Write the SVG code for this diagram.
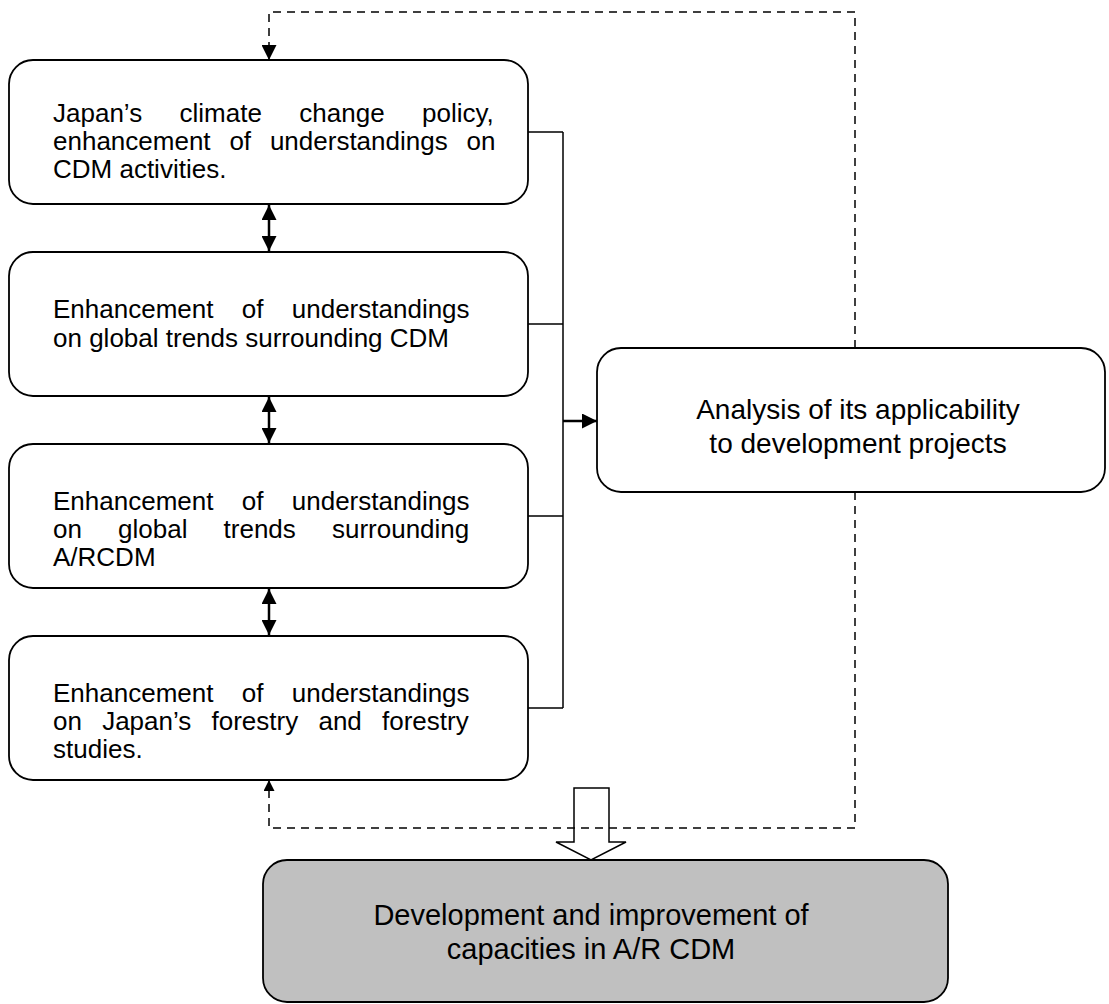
<svg xmlns="http://www.w3.org/2000/svg" width="1109" height="1004" viewBox="0 0 1109 1004">
  <style>
    .box{fill:#fff;stroke:#000;stroke-width:1.8}
    .grey{fill:#c0c0c0}
    .t{font-family:"Liberation Sans",Arial,sans-serif;font-size:26px;fill:#000}
    .m{font-family:"Liberation Sans",Arial,sans-serif;font-size:28px;fill:#000;text-anchor:middle}
    .b{font-family:"Liberation Sans",Arial,sans-serif;font-size:29px;fill:#000;text-anchor:middle}
    .ln{fill:none;stroke:#000;stroke-width:1.5}
    .bold{stroke-width:2.5}
    .dash{fill:none;stroke:#000;stroke-width:1.5;stroke-dasharray:8 6}
  </style>
  <defs>
    <marker id="head" viewBox="0 0 10 10" refX="10" refY="5" markerWidth="15" markerHeight="15" markerUnits="userSpaceOnUse" orient="auto-start-reverse">
      <path d="M0,0 L10,5 L0,10 z" fill="#000"/>
    </marker>
    <marker id="headS" viewBox="0 0 10 10" refX="10" refY="5" markerWidth="14" markerHeight="11" markerUnits="userSpaceOnUse" orient="auto">
      <path d="M0,0 L10,5 L0,10 z" fill="#000"/>
    </marker>
  </defs>

  <!-- hollow block arrow into the result box (under the feedback loop) -->
  <polygon id="block-arrow" points="574,788 609,788 609,842 626,842 591,860 556,842 574,842" fill="#fff" stroke="#000" stroke-width="1.5"/>

  <g id="connectors">
    <!-- links between the stacked topics -->
    <line class="ln bold" x1="269" y1="205" x2="269" y2="251" marker-start="url(#head)" marker-end="url(#head)"/>
    <line class="ln bold" x1="269" y1="397" x2="269" y2="443" marker-start="url(#head)" marker-end="url(#head)"/>
    <line class="ln bold" x1="269" y1="589" x2="269" y2="635" marker-start="url(#head)" marker-end="url(#head)"/>
    <!-- bus collecting all topics -->
    <path class="ln" d="M528,132 H563 M528,324 H563 M528,516 H563 M528,708 H563 M563,132 V708"/>
    <line class="ln bold" x1="563" y1="421" x2="597" y2="421" marker-end="url(#head)"/>
    <!-- feedback loops -->
    <path class="dash" d="M855,348 V12 H269 V60" marker-end="url(#head)"/>
    <path class="dash" d="M855,492 V828 H269 V780" marker-end="url(#headS)"/>
  </g>

  <g id="node-policy">
    <rect class="box" x="9" y="60" width="519" height="144" rx="24"/>
    <text class="t" x="53" y="122" word-spacing="30.2">Japan’s climate change policy,</text>
    <text class="t" x="53" y="150" word-spacing="11.6">enhancement of understandings on</text>
    <text class="t" x="53" y="178">CDM activities.</text>
  </g>

  <g id="node-cdm-trends">
    <rect class="box" x="9" y="252" width="519" height="144" rx="24"/>
    <text class="t" x="53" y="318" word-spacing="21.1">Enhancement of understandings</text>
    <text class="t" x="53" y="347">on global trends surrounding CDM</text>
  </g>

  <g id="node-arcdm-trends">
    <rect class="box" x="9" y="444" width="519" height="144" rx="24"/>
    <text class="t" x="53" y="510" word-spacing="21.1">Enhancement of understandings</text>
    <text class="t" x="53" y="538" word-spacing="28.9">on global trends surrounding</text>
    <text class="t" x="53" y="566">A/RCDM</text>
  </g>

  <g id="node-forestry">
    <rect class="box" x="9" y="636" width="519" height="144" rx="24"/>
    <text class="t" x="53" y="702" word-spacing="21.1">Enhancement of understandings</text>
    <text class="t" x="53" y="730" word-spacing="13">on Japan’s forestry and forestry</text>
    <text class="t" x="53" y="758">studies.</text>
  </g>

  <g id="node-analysis">
    <rect class="box" x="597" y="348" width="508" height="144" rx="24"/>
    <text class="m" x="858" y="419">Analysis of its applicability</text>
    <text class="m" x="858" y="453">to development projects</text>
  </g>

  <g id="node-capacity">
    <rect class="box grey" x="263" y="860" width="685" height="142" rx="24"/>
    <text class="b" x="591" y="925">Development and improvement of</text>
    <text class="b" x="591" y="959">capacities in A/R CDM</text>
  </g>
</svg>
